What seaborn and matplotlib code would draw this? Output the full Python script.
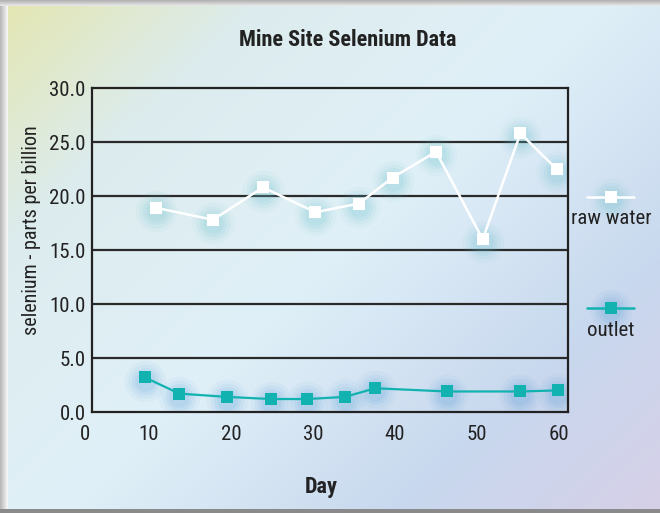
import numpy as np
import pandas as pd
import seaborn as sns
import matplotlib.pyplot as plt
from matplotlib.lines import Line2D
from matplotlib.patches import Rectangle
from matplotlib.colors import LinearSegmentedColormap

# data
raw_day = [10.9, 17.8, 23.9, 30.3, 35.6, 39.7, 45.0, 50.7, 55.3, 59.7]
raw_se = [18.9, 17.8, 20.8, 18.5, 19.3, 21.7, 24.1, 16.0, 25.8, 22.5]
outlet_day = [9.5, 13.7, 19.5, 24.9, 29.3, 33.9, 37.6, 46.3, 55.3, 59.9]
outlet_se = [3.2, 1.7, 1.4, 1.2, 1.2, 1.4, 2.2, 1.9, 1.9, 2.0]
x_ticks = [10, 20, 30, 40, 50, 60]
y_ticks = [0, 5, 10, 15, 20, 25, 30]

raw = pd.DataFrame({"Day": raw_day, "selenium": raw_se})
outlet = pd.DataFrame({"Day": outlet_day, "selenium": outlet_se})

sns.set_style("white")
plt.rcParams['font.family'] = ['Roboto Condensed', 'Roboto', 'DejaVu Sans']

fig = plt.figure(figsize=(6.6, 5.13), dpi=100)

# background gradient over the whole figure
bg = fig.add_axes([0, 0, 1, 1], zorder=-10)
bg.set_axis_off()
h, w = 513, 660
yy, xx = np.mgrid[0:h, 0:w]
t = 0.55 * xx / w + 0.45 * yy / h
cmap = LinearSegmentedColormap.from_list("bg", [
    (0.0, "#e4e6b0"), (0.22, "#dcecee"), (0.5, "#e0f0f8"),
    (0.78, "#c8d8ee"), (1.0, "#d6d0e8")])
bg.imshow(t, cmap=cmap, aspect="auto", extent=[0, 1, 0, 1], origin="upper")
# grey frame edges
for i in range(8):
    g = 0.72 + 0.035 * i
    bg.add_patch(Rectangle((i / w, 0), 1 / w, 1, color=(g, g, g), lw=0))
for i in range(6):
    g = 0.70 + 0.04 * i
    bg.add_patch(Rectangle((0, 1 - (i + 1) / h), 1, 1 / h, color=(g, g, g), lw=0))
bg.add_patch(Rectangle((0, 0), 1, 4 / h, color="#8a8a8a", lw=0))
bg.set_xlim(0, 1)
bg.set_ylim(0, 1)

ax = fig.add_axes([92 / 660, 1 - 412 / 513, 476 / 660, 324 / 513])
ax.patch.set_alpha(0)

# soft glow behind the markers
glow_steps = [(900, 0.05), (600, 0.07), (380, 0.09), (220, 0.1)]
for s, a in glow_steps:
    ax.scatter(raw_day, np.array(raw_se) - 0.3, s=s, color="#5fbcc8", alpha=a, lw=0, zorder=2)
    ax.scatter(outlet_day, np.array(outlet_se) - 0.3, s=s, color="#4f9ad8", alpha=a, lw=0, zorder=2)

sns.lineplot(data=raw, x="Day", y="selenium", sort=False, color="white", lw=1.8,
             marker="s", markersize=9, markeredgewidth=0, ax=ax, zorder=4)
sns.lineplot(data=outlet, x="Day", y="selenium", sort=False, color="#12b2b0", lw=1.6,
             marker="s", markersize=9, markeredgewidth=0, ax=ax, zorder=4)

ax.set_xlim(3.05, 61.1)
ax.set_ylim(0, 30)
ax.set_xticks(x_ticks)
ax.set_yticks(y_ticks)
ax.set_yticklabels([f"{v:.1f}" for v in y_ticks])
ax.tick_params(length=0, labelsize=15, colors="#222222")
ax.tick_params(axis="y", pad=4.5)
ax.tick_params(axis="x", pad=9)
for v in y_ticks[1:-1]:
    ax.axhline(v, color="#2a2a2a", lw=1.6, zorder=1)
for sp in ax.spines.values():
    sp.set_color("#222222")
    sp.set_linewidth(1.6)
ax.set_xlabel("")
ax.set_ylabel("")

fig.text(85 / 660, 1 - 434 / 513, "0", fontsize=15, color="#222222", ha="center", va="center")
fig.text(348 / 660, 1 - 40 / 513, "Mine Site Selenium Data", fontsize=16, fontweight="bold",
         color="#222222", ha="center", va="center")
fig.text(321 / 660, 1 - 487 / 513, "Day", fontsize=16, fontweight="bold",
         color="#222222", ha="center", va="center")
fig.text(32 / 660, 1 - 230 / 513, "selenium - parts per billion", fontsize=14.5, rotation=90,
         color="#222222", ha="center", va="center")

# legend drawn to the right of the plot
for y, col, glow, label, lab_y in [(197, "white", "#5fbcc8", "raw water", 218),
                                   (308, "#12b2b0", "#4f9ad8", "outlet", 331)]:
    fy = 1 - y / 513
    fx = 611 / 660
    for s, a in glow_steps:
        fig.add_artist(Line2D([fx], [fy - 0.004], marker="o", markersize=np.sqrt(s), color=glow,
                              alpha=a, lw=0, markeredgewidth=0))
    fig.add_artist(Line2D([587 / 660, 634 / 660], [fy, fy], color=col, lw=1.8))
    fig.add_artist(Line2D([fx], [fy], marker="s", markersize=9, color=col, lw=0,
                          markeredgewidth=0))
    fig.text(fx, 1 - lab_y / 513, label, fontsize=15, color="#222222", ha="center", va="center")

fig.savefig("out.png", dpi=100)
